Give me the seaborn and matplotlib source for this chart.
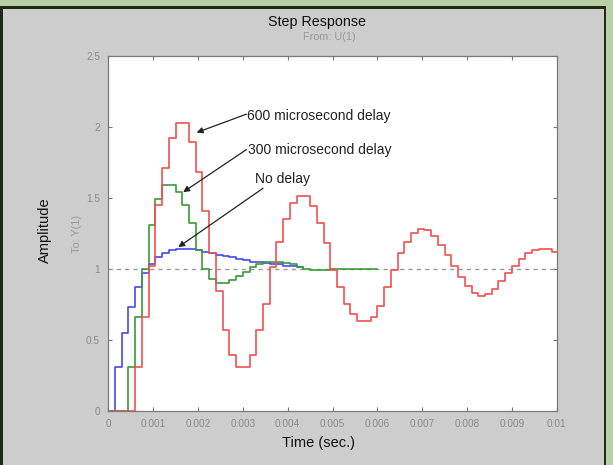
import numpy as np
import pandas as pd
import seaborn as sns
import matplotlib.pyplot as plt
from matplotlib.patches import Rectangle

# sample period of the discrete step response (s)
TS = 0.00015

# step response samples, one value per sample period
no_delay = [0, 0.31, 0.55, 0.73, 0.87, 0.97, 1.03, 1.08, 1.11, 1.13, 1.14,
            1.14, 1.14, 1.13, 1.12, 1.11, 1.10, 1.09, 1.08, 1.07, 1.06, 1.05,
            1.05, 1.04, 1.03, 1.03, 1.02, 1.02, 1.01]
delay_300 = [0, 0, 0, 0.31, 0.66, 1.0, 1.31, 1.49, 1.59, 1.59, 1.54, 1.45,
             1.32, 1.13, 1.0, 0.93, 0.9, 0.9, 0.92, 0.95, 0.98, 1.01, 1.03,
             1.05, 1.05, 1.05, 1.04, 1.03, 1.01, 1.0, 0.99, 0.99, 0.99, 1.0,
             1.0, 1.0, 1.0, 1.0, 1.0, 1.0]
delay_600 = [0, 0, 0, 0, 0.31, 0.66, 1.02, 1.45, 1.71, 1.92, 2.03, 2.03, 1.89,
             1.68, 1.41, 1.11, 0.84, 0.57, 0.39, 0.31, 0.31, 0.39, 0.57, 0.75,
             1.01, 1.19, 1.35, 1.46, 1.51, 1.51, 1.44, 1.32, 1.18, 0.99, 0.87,
             0.75, 0.68, 0.63, 0.63, 0.66, 0.74, 0.87, 0.99, 1.11, 1.19, 1.25,
             1.28, 1.27, 1.23, 1.17, 1.10, 1.02, 0.94, 0.88, 0.83, 0.81, 0.82,
             0.86, 0.91, 0.97, 1.02, 1.07, 1.11, 1.13, 1.14, 1.14, 1.12]

series_names = ["No delay", "300 microsecond delay", "600 microsecond delay"]
series_values = [no_delay, delay_300, delay_600]
series_colors = ["#4848f0", "#3a9a3a", "#f05050"]

x_ticks = [0, 0.001, 0.002, 0.003, 0.004, 0.005, 0.006, 0.007, 0.008, 0.009, 0.01]
x_ticklabels = ["0", "0.001", "0.002", "0.003", "0.004", "0.005", "0.006",
                "0.007", "0.008", "0.009", "0.01"]
y_ticks = [0, 0.5, 1, 1.5, 2, 2.5]
y_ticklabels = ["0", "0.5", "1", "1.5", "2", "2.5"]

# (label, text position, arrow tail, arrow head) in data coords
notes = [
    ("600 microsecond delay", (0.00310, 2.08), (0.00308, 2.09), (0.00197, 1.96)),
    ("300 microsecond delay", (0.00312, 1.84), (0.00308, 1.84), (0.00167, 1.54)),
    ("No delay", (0.00327, 1.635), (0.00345, 1.567), (0.00156, 1.152)),
]

rows = []
for name, vals in zip(series_names, series_values):
    # hold the last sample for one period (stairs)
    v = list(vals) + [vals[-1]]
    for k, a in enumerate(v):
        rows.append({"time": k * TS, "amplitude": a, "series": name})
df = pd.DataFrame(rows)

sns.set_style("white")
plt.rcParams["font.family"] = ["Liberation Sans", "DejaVu Sans"]

fig = plt.figure(figsize=(6.13, 4.65), dpi=100)
W, H = 613, 465
fig.patch.set_facecolor("#b8cfa6")
# dark frame + grey window area, kept behind the axes
fig.add_artist(Rectangle((0, 0), 606 / W, 1 - 6 / H, transform=fig.transFigure,
                         facecolor="#1c2a1c", edgecolor="none", zorder=-10))
fig.add_artist(Rectangle((3 / W, 0), 601 / W, 1 - 9 / H, transform=fig.transFigure,
                         facecolor="#cdcdcd", edgecolor="none", zorder=-9))

ax = fig.add_axes([108.3 / W, (H - 410.5) / H, 448.4 / W, 354.5 / H])
ax.set_zorder(1)
ax.set_facecolor("white")

ax.axhline(1.0, color="#9a9a9a", lw=1.0, ls=(0, (3, 3)), zorder=1)

sns.lineplot(data=df, x="time", y="amplitude", hue="series",
             hue_order=series_names, palette=series_colors,
             estimator=None, sort=False, drawstyle="steps-post",
             linewidth=1.2, legend=False, ax=ax, zorder=2)

for label, txt, tail, head in notes:
    ax.text(txt[0], txt[1], label, ha="left", va="center", fontsize=10,
            color="#222222")
    ax.annotate("", xy=head, xytext=tail,
                arrowprops=dict(arrowstyle="-|>", color="#222222", lw=0.9,
                                mutation_scale=9, shrinkA=0, shrinkB=0))

ax.set_xlim(0, 0.01)
ax.set_ylim(0, 2.5)
ax.set_xticks(x_ticks)
ax.set_xticklabels(x_ticklabels)
ax.set_yticks(y_ticks)
ax.set_yticklabels(y_ticklabels)
ax.set_xlabel("")
ax.set_ylabel("")
ax.tick_params(direction="in", length=3, width=0.8, color="#777777",
               labelcolor="#8a8a8a", labelsize=7.2, top=True, right=True,
               bottom=True, left=True)
ax.tick_params(axis="x", pad=6)
ax.tick_params(axis="y", pad=6)
for s in ax.spines.values():
    s.set_color("#7a7a7a")
    s.set_linewidth(0.9)

fig.text(317 / W, (H - 22) / H, "Step Response", ha="center", va="center",
         fontsize=10.3, color="#111111")
fig.text(329 / W, (H - 37) / H, "From: U(1)", ha="center", va="center",
         fontsize=7.8, color="#999999")
fig.text(318 / W, (H - 443) / H, "Time (sec.)", ha="center", va="center",
         fontsize=10.5, color="#111111")
fig.text(45 / W, (H - 230) / H, "Amplitude", ha="center", va="center",
         rotation=90, fontsize=10.5, color="#111111")
fig.text(77 / W, (H - 234) / H, "To: Y(1)", ha="center", va="center",
         rotation=90, fontsize=7.8, color="#999999")

fig.savefig("out.png", dpi=100, facecolor=fig.get_facecolor())
